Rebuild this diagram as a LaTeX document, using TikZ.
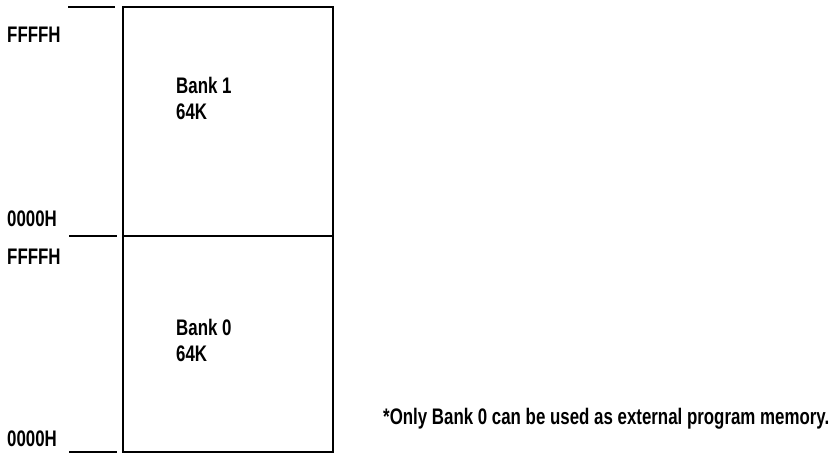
\documentclass[tikz,border=0pt]{standalone}
\usepackage{fontspec}
\setmainfont{Liberation Sans}[FakeStretch=0.75]
\usetikzlibrary{positioning}

\tikzset{
  bankbox/.style={draw, line width=2pt, minimum width=210pt, inner sep=0pt},
  addr/.style={anchor=base west, inner sep=0pt, font=\bfseries\fontsize{22.5}{26}\selectfont},
  tick/.style={line width=2pt}
}

\begin{document}
\begin{tikzpicture}[x=1pt,y=-1pt]
  \useasboundingbox (0,0) rectangle (838,456);

  % the two banks
  \node[bankbox, minimum height=229pt] (bank1) at (228,121.5) {};
  \node[bankbox, minimum height=216pt] (bank0) at (228,344) {};

  % address ticks
  \coordinate (t1a) at (68,7);   \coordinate (t1b) at (115,7);
  \coordinate (t2a) at (69,236); \coordinate (t2b) at (117,236);
  \coordinate (t3a) at (69,452); \coordinate (t3b) at (117,452);
  \draw[tick] (t1a) -- (t1b);
  \draw[tick] (t2a) -- (t2b);
  \draw[tick] (t3a) -- (t3b);

  % addresses
  \node[addr] (top1) at (7,42)  {FFFFH};
  \node[addr] (bot1) at (7,226) {0000H};
  \node[addr] (top0) at (7,264) {FFFFH};
  \node[addr] (bot0) at (7,446) {0000H};

  % bank labels
  \node[addr, align=left] (lab1) at (176,119) {Bank 1\\64K};
  \node[addr, align=left] (lab0) at (176,361) {Bank 0\\64K};

  \node[addr] (note) at (383,424) {*Only Bank 0 can be used as external program memory.};
\end{tikzpicture}
\end{document}
